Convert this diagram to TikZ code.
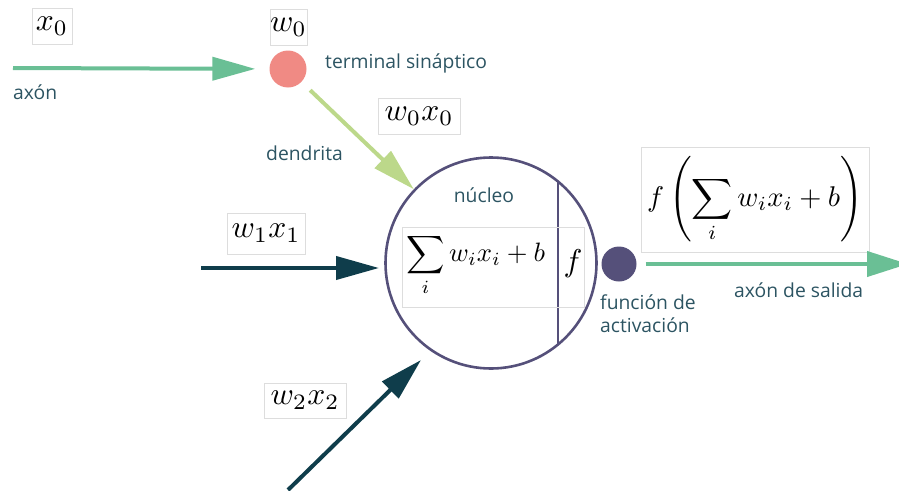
\documentclass[tikz,border=0pt]{standalone}
\usepackage{graphicx}
\usepackage{fontspec}
\setmainfont{Open Sans}
\usetikzlibrary{arrows.meta}
\definecolor{axgreen}{HTML}{6ABF95}
\definecolor{dgreen}{HTML}{BCD88A}
\definecolor{dteal}{HTML}{0F3D4B}
\definecolor{npurple}{HTML}{55507A}
\definecolor{synred}{HTML}{F08A84}
\definecolor{txt}{HTML}{2C5462}
\definecolor{boxgray}{HTML}{DDDDDD}
\newcommand{\lgmath}[1]{\scalebox{3.15}{$#1$}}
\newcommand{\lgdmath}[1]{\scalebox{2.66}{$\displaystyle #1$}}
\begin{document}
\begin{tikzpicture}[x=1pt,y=-1pt,
  mbox/.style={draw=boxgray,line width=0.6pt,fill=white,inner sep=0pt},
  lbl/.style={text=txt,font=\fontsize{19.3}{22}\selectfont,inner sep=0pt},
  arr/.style={line width=4pt,-{Triangle[length=43pt,width=23pt]}},
]
\useasboundingbox (0,0) rectangle (899,490);
% nodes
\node[circle,fill=synred,minimum size=37pt,inner sep=0pt] (syn) at (288,69) {};
\node[circle,draw=npurple,line width=2.6pt,minimum size=211pt,inner sep=0pt] (neuron) at (491,263) {};
\node[circle,fill=npurple,minimum size=35pt,inner sep=0pt] (act) at (619,264) {};
\draw[npurple,line width=2.6pt] (558,181.5) coordinate (vtop) -- (558,344.5) coordinate (vbot);

\node[mbox,minimum width=40pt,minimum height=36pt] (x0) at (52,26) {\lgmath{x_0}};
\node[mbox,minimum width=37pt,minimum height=36pt] (w0) at (288.5,27) {\lgmath{w_0}};
\node[mbox,minimum width=82pt,minimum height=36pt] (w0x0) at (419,116) {\lgmath{w_0x_0}};
\node[mbox,minimum width=78pt,minimum height=41pt] (w1x1) at (266,233.5) {\lgmath{w_1x_1}};
\node[mbox,minimum width=82pt,minimum height=35pt] (w2x2) at (305,400.5) {\lgmath{w_2x_2}};
\node[mbox,minimum width=182pt,minimum height=80pt,fill=none] (sumbox) at (493,267) {};
\node[inner sep=0pt,anchor=west] (sum) at (406,265) {\lgdmath{\sum_i w_ix_i+b}};
\node[inner sep=0pt] (fnode) at (573,264) {\lgmath{f}};
\node[mbox,minimum width=228pt,minimum height=105pt] (out) at (755,199.5) {\scalebox{2.85}{$\displaystyle f\left(\sum_i w_ix_i+b\right)$}};

% labels
\node[lbl,anchor=west] (axon) at (13,92) {axón};
\node[lbl,anchor=west] (term) at (325,63) {terminal sináptico};
\node[lbl,anchor=west] (dend) at (266,153) {dendrita};
\node[lbl] (nuc) at (484,195) {núcleo};
\node[lbl,anchor=west] (sal) at (734,290) {axón de salida};
\node[lbl,anchor=north west,align=left,font=\fontsize{19.3}{23}\selectfont] (fact) at (600,295) {función de\\activación};

% connectors
\coordinate (axstart) at (13,68);
\coordinate (w1start) at (201,268);
\coordinate (w1tip) at (379,268);
\coordinate (w2start) at (288,490);
\coordinate (w2tip) at (421,360);
\coordinate (outtip) at (908,264);
\draw[arr,axgreen,shorten >=14pt] (axstart) -- (syn);
\draw[arr,dgreen,shorten <=12pt] (syn) -- (neuron);
\draw[arr,dteal] (w1start) -- (w1tip);
\draw[arr,dteal] (w2start) -- (w2tip);
\draw[arr,axgreen,-{Triangle[length=41pt,width=25pt]},shorten <=9pt] (act) -- (outtip);
\end{tikzpicture}
\end{document}
